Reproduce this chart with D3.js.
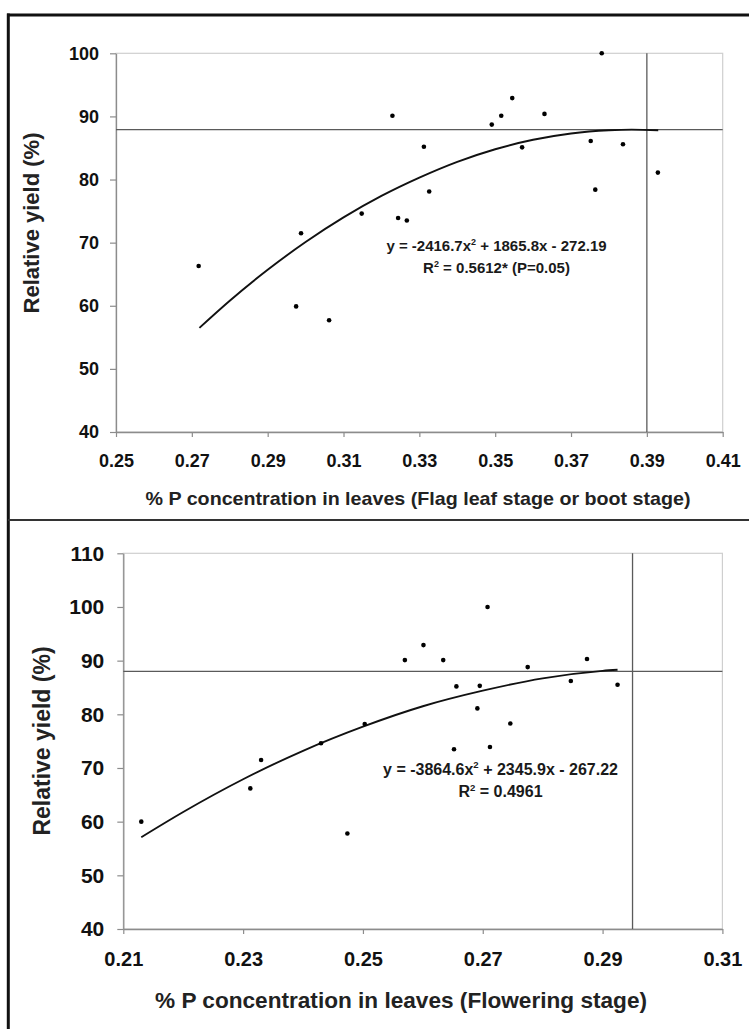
<!DOCTYPE html>
<html><head><meta charset="utf-8">
<script src="https://cdn.jsdelivr.net/npm/d3@7"></script>
<style>
body{margin:0;background:#fff}
svg{display:block}
text{font-family:"Liberation Sans",Arial,Helvetica,sans-serif}
</style>
</head><body>
<svg id="chart" width="749" height="1029"></svg>
<script>
// ---------- DATA ----------
// Panel 1: Flag leaf stage or boot stage
const flagP = [0.2718, 0.2975, 0.2988, 0.3062, 0.3148, 0.3229, 0.3244, 0.3267, 0.3312, 0.3326,
               0.3491, 0.3516, 0.3545, 0.3571, 0.3630, 0.3752, 0.3764, 0.3781, 0.3837, 0.3929];
const flagYield = [66.3, 59.9, 71.5, 57.7, 74.6, 90.1, 73.9, 73.5, 85.2, 78.1,
                   88.7, 90.1, 92.9, 85.1, 90.4, 86.1, 78.4, 100.0, 85.6, 81.1];
const flagTrendP = [0.272, 0.28, 0.29, 0.30, 0.31, 0.32, 0.33, 0.34, 0.35, 0.36, 0.37, 0.38, 0.386, 0.393];
const flagTrendYield = [56.5, 60.8, 65.7, 70.1, 74.0, 77.4, 80.3, 82.8, 84.8, 86.3, 87.3, 87.8, 87.9, 87.8];
const flagCriticalP = [0.39];
const flagPlateau = [87.9];
const flagXTicks = [0.25, 0.27, 0.29, 0.31, 0.33, 0.35, 0.37, 0.39, 0.41];
const flagYTicks = [40, 50, 60, 70, 80, 90, 100];
const flagEquation = ["y = -2416.7x", "2", " + 1865.8x - 272.19"];
const flagR2 = ["R", "2", " = 0.5612* (P=0.05)"];
const flagXTitle = "% P concentration in leaves (Flag leaf stage or boot stage)";

// Panel 2: Flowering stage
const flowerP = [0.2130, 0.2312, 0.2330, 0.2430, 0.2474, 0.2503, 0.2570, 0.2601, 0.2634, 0.2652,
                 0.2656, 0.2691, 0.2695, 0.2708, 0.2712, 0.2746, 0.2775, 0.2847, 0.2874, 0.2925];
const flowerYield = [60.0, 66.2, 71.5, 74.6, 57.8, 78.2, 90.1, 92.9, 90.1, 73.5,
                     85.2, 81.1, 85.3, 100.0, 73.9, 78.3, 88.8, 86.2, 90.3, 85.5];
const flowerTrendP = [0.213, 0.22, 0.23, 0.24, 0.25, 0.26, 0.27, 0.28, 0.29, 0.2925];
const flowerTrendYield = [57.1, 61.8, 67.9, 73.2, 77.7, 81.5, 84.4, 86.7, 88.1, 88.3];
const flowerCriticalP = [0.295];
const flowerPlateau = [88];
const flowerXTicks = [0.21, 0.23, 0.25, 0.27, 0.29, 0.31];
const flowerYTicks = [40, 50, 60, 70, 80, 90, 100, 110];
const flowerEquation = ["y = -3864.6x", "2", " + 2345.9x - 267.22"];
const flowerR2 = ["R", "2", " = 0.4961"];
const flowerXTitle = "% P concentration in leaves (Flowering stage)";

const yTitle = "Relative yield (%)";

// ---------- DRAWING ----------
const svg = d3.select("#chart");

function zip(a, b) { return a.map((v, i) => [v, b[i]]); }

function drawPanel(o) {
  const x = d3.scaleLinear().domain(d3.extent(o.xTicks)).range([o.left, o.right]);
  const y = d3.scaleLinear().domain(d3.extent(o.yTicks)).range([o.bottom, o.top]);
  const g = svg.append("g");

  // plot area border
  g.append("rect")
    .attr("x", x.range()[0]).attr("y", y.range()[1])
    .attr("width", x.range()[1] - x.range()[0])
    .attr("height", y.range()[0] - y.range()[1])
    .attr("fill", "none").attr("stroke", "#cfcfcf").attr("stroke-width", 1.2);

  // axes
  const ya = g.append("g").attr("transform", `translate(${o.left},0)`)
    .call(d3.axisLeft(y).tickValues(o.yTicks).tickSize(6).tickSizeOuter(0)
      .tickPadding(o.yPad).tickFormat(d3.format("d")));
  const xa = g.append("g").attr("transform", `translate(0,${o.bottom})`)
    .call(d3.axisBottom(x).tickValues(o.xTicks).tickSize(5).tickSizeOuter(0)
      .tickPadding(o.xPad).tickFormat(d3.format(".2f")));
  [ya, xa].forEach(a => {
    a.select(".domain").attr("stroke", "#8c8c8c").attr("stroke-width", 1.3);
    a.selectAll(".tick line").attr("stroke", "#8c8c8c").attr("stroke-width", 1.2);
    a.selectAll(".tick text").attr("fill", "#111").attr("font-weight", "bold")
      .attr("font-size", o.tickFont).attr("font-family", '"Liberation Sans",Arial,sans-serif');
  });
  ya.selectAll(".tick text").attr("font-size", o.yTickFont);

  // reference lines
  g.append("line")
    .attr("x1", x(o.crit[0])).attr("x2", x(o.crit[0]))
    .attr("y1", y.range()[1]).attr("y2", y.range()[0])
    .attr("stroke", "#5a5a5a").attr("stroke-width", 1.3);
  g.append("line")
    .attr("x1", x.range()[0]).attr("x2", x.range()[1])
    .attr("y1", y(o.plateau[0])).attr("y2", y(o.plateau[0]))
    .attr("stroke", "#5a5a5a").attr("stroke-width", 1.3);

  // trend curve
  g.append("path")
    .datum(zip(o.trendX, o.trendY))
    .attr("fill", "none").attr("stroke", "#111").attr("stroke-width", 1.9)
    .attr("d", d3.line().x(d => x(d[0])).y(d => y(d[1])).curve(d3.curveMonotoneX));

  // points
  g.selectAll("circle.pt").data(zip(o.px, o.py)).join("circle")
    .attr("class", "pt")
    .attr("cx", d => x(d[0])).attr("cy", d => y(d[1]))
    .attr("r", 2.3).attr("fill", "#000");

  // equation text
  function supText(parts, cx, by, fs) {
    const t = g.append("text").attr("x", cx).attr("y", by)
      .attr("text-anchor", "middle").attr("font-weight", "bold")
      .attr("font-size", fs).attr("fill", "#1a1a1a");
    t.append("tspan").text(parts[0]);
    t.append("tspan").attr("dy", -fs * 0.4).attr("font-size", fs * 0.6).text(parts[1]);
    t.append("tspan").attr("dy", fs * 0.4).text(parts[2]);
  }
  supText(o.eq, o.eqX, o.eqY1, o.eqFont);
  supText(o.r2, o.eqX, o.eqY2, o.eqFont);

  // y title
  g.append("text")
    .attr("transform", `translate(${o.yTitleX},${o.yTitleY}) rotate(-90)`)
    .attr("text-anchor", "middle").attr("dy", "0.35em")
    .attr("font-weight", "bold").attr("font-size", o.yTitleFont).attr("fill", "#222")
    .text(yTitle);

  // x title
  g.append("text")
    .attr("x", o.xTitleX).attr("y", o.xTitleY).attr("dy", "0.35em")
    .attr("text-anchor", "middle").attr("font-weight", "bold")
    .attr("font-size", o.xTitleFont).attr("fill", "#222")
    .attr("textLength", o.xTitleLen).attr("lengthAdjust", "spacingAndGlyphs")
    .text(o.xTitle);
}

drawPanel({
  left: 116, right: 722.7, top: 53.3, bottom: 432,
  xTicks: flagXTicks, yTicks: flagYTicks,
  px: flagP, py: flagYield, trendX: flagTrendP, trendY: flagTrendYield,
  crit: flagCriticalP, plateau: flagPlateau,
  tickFont: 18, yTickFont: 18, yPad: 11, xPad: 17,
  eq: flagEquation, r2: flagR2, eqX: 496.5, eqY1: 251, eqY2: 273, eqFont: 15,
  yTitleX: 31, yTitleY: 223, yTitleFont: 22,
  xTitle: flagXTitle, xTitleX: 418, xTitleY: 498, xTitleFont: 19, xTitleLen: 545
});

drawPanel({
  left: 123.3, right: 722.4, top: 553.3, bottom: 929,
  xTicks: flowerXTicks, yTicks: flowerYTicks,
  px: flowerP, py: flowerYield, trendX: flowerTrendP, trendY: flowerTrendYield,
  crit: flowerCriticalP, plateau: flowerPlateau,
  tickFont: 20, yTickFont: 21, yPad: 13, xPad: 18,
  eq: flowerEquation, r2: flowerR2, eqX: 500.5, eqY1: 774.5, eqY2: 797, eqFont: 16,
  yTitleX: 41.5, yTitleY: 741, yTitleFont: 23,
  xTitle: flowerXTitle, xTitleX: 401, xTitleY: 1000.5, xTitleFont: 22, xTitleLen: 492
});

// frame lines
svg.append("line").attr("x1", 7).attr("x2", 749).attr("y1", 15).attr("y2", 15)
  .attr("stroke", "#111").attr("stroke-width", 3);
svg.append("line").attr("x1", 8.3).attr("x2", 8.3).attr("y1", 13.5).attr("y2", 1029)
  .attr("stroke", "#111").attr("stroke-width", 3);
svg.append("line").attr("x1", 8).attr("x2", 749).attr("y1", 520).attr("y2", 520)
  .attr("stroke", "#333").attr("stroke-width", 2);
</script>
</body></html>
